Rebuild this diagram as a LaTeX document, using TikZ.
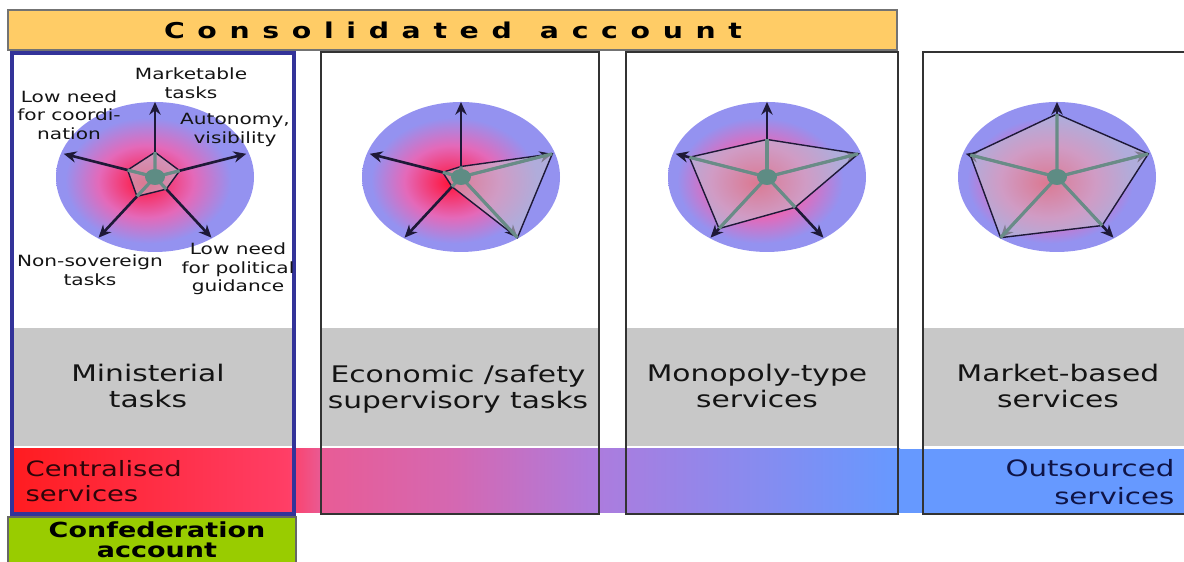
\documentclass[tikz,border=0pt]{standalone}
\usepackage{fontspec}
\setmainfont{DejaVu Sans}[FakeStretch=1.3]
\usetikzlibrary{calc,arrows.meta,positioning}

\definecolor{titleorange}{RGB}{255,204,102}
\definecolor{ministryblue}{RGB}{51,51,153}
\definecolor{bandgray}{RGB}{200,200,200}
\definecolor{centralred}{RGB}{255,28,32}
\definecolor{rosered}{RGB}{255,62,102}
\definecolor{pinkmauve}{RGB}{232,92,150}
\definecolor{midmauve}{RGB}{212,104,178}
\definecolor{lilac}{RGB}{172,124,222}
\definecolor{outblue}{RGB}{102,153,255}
\definecolor{confgreen}{RGB}{153,204,0}
\definecolor{axisdark}{RGB}{30,25,55}
\definecolor{spoketeal}{RGB}{105,140,135}
\definecolor{hubteal}{RGB}{94,140,132}
\definecolor{glowin}{RGB}{255,20,60}
\definecolor{glowmid}{RGB}{228,105,185}
\definecolor{glowout}{RGB}{148,146,240}

\pgfdeclareradialshading{radarglow}{\pgfpoint{-3bp}{-2bp}}{color(0bp)=(glowin); color(12bp)=(glowmid); color(21bp)=(glowout); color(50bp)=(glowout)}
\pgfdeclarehorizontalshading{serviceband}{100bp}{color(0bp)=(centralred); color(25bp)=(centralred); color(40.5bp)=(rosered); color(42.5bp)=(pinkmauve); color(50bp)=(midmauve); color(58bp)=(lilac); color(75bp)=(outblue); color(100bp)=(outblue)}

\newcommand{\tightlines}{\lineskiplimit=-10pt\relax}

\begin{document}
\begin{tikzpicture}[x=0.01cm, y=-0.01cm,
    every node/.style={inner sep=0pt, align=center},
    colbox/.style={draw=black!80, line width=0.35pt},
    axis/.style={draw=axisdark, line width=0.75pt, -{Stealth[length=3.6pt,width=3.2pt]}},
    spoke/.style={draw=spoketeal, line width=0.9pt},
    web/.style={draw=axisdark, line width=0.4pt, fill={rgb,255:red,195;green,190;blue,205}, fill opacity=0.6},
    radarlbl/.style={font=\fontsize{4.4}{5.3}\selectfont\tightlines, text=black!92},
    tasklbl/.style={font=\fontsize{6.5}{7.4}\selectfont\tightlines, text=black!92},
    bandlbl/.style={font=\fontsize{6.0}{7.1}\selectfont\tightlines}]

    \useasboundingbox (0,0) rectangle (1184,562);

    % consolidated account bar
    \draw[draw=black!55, fill=titleorange] (8,10) rectangle (897,50);
    \node[font=\bfseries\fontsize{6.2}{7}\selectfont\addfontfeature{LetterSpace=58}] (title) at (453,30) {Consolidated\hspace{8pt}account};

    % gradient band
    \shade[shading=serviceband] (12,449) rectangle (900,513);
    \fill[outblue] (899,449) rectangle (1184,513);

    % gray bands
    \fill[bandgray] (14,328) rectangle (292,446);
    \fill[bandgray] (321,328) rectangle (599,446);
    \fill[bandgray] (626,328) rectangle (898,446);
    \fill[bandgray] (923,328) rectangle (1184,446);

    % columns
    \draw[colbox] (321,52) rectangle (599,514);
    \draw[colbox] (626,52) rectangle (898,514);
    \draw[colbox] (1184,52) -- (923,52) -- (923,514) -- (1184,514);
    \draw[draw=ministryblue, line width=1.2pt] (12,53) rectangle (294,514);

    % radar charts
    \foreach \i/\cx/\fa/\fb/\fc/\fd/\fe in {1/155/.33/.27/.2/.32/.3, 2/461/.14/1/1/.16/.2, 3/767/.5/1/.5/.85/.85, 4/1057/.84/1/.8/1/.95}{
        \coordinate (c\i) at (\cx,177);
        \shade[shading=radarglow] (c\i) ellipse [x radius=99, y radius=75];
        \foreach \k/\ang/\f in {1/90/\fa, 2/18/\fb, 3/-54/\fc, 4/-126/\fd, 5/162/\fe}{
            \coordinate (t\i-\k) at ($(c\i)+({96*cos(\ang)},{-75*sin(\ang)})$);
            \coordinate (v\i-\k) at ($(c\i)!\f!(t\i-\k)$);
            \draw[axis] (c\i) -- (t\i-\k);
        }
        \draw[web] (v\i-1) -- (v\i-2) -- (v\i-3) -- (v\i-4) -- (v\i-5) -- cycle;
        \foreach \k in {1,...,5}
            \draw[spoke] (c\i) -- (v\i-\k);
        \fill[hubteal] (c\i) ellipse [x radius=10, y radius=8];
    }

    % axis labels
    \node[radarlbl] (mkt) at (191,83) {Marketable\\tasks};
    \node[radarlbl] (coord) at (69,115) {Low need\\for coordi-\\nation};
    \node[radarlbl] (auto) at (235,130) {Autonomy,\\visibility};
    \node[radarlbl] (nonsov) at (90,270) {Non-sovereign\\tasks};
    \node[radarlbl] (pol) at (238,269) {Low need\\for political\\guidance};

    % task types
    \node[tasklbl] (minist) at (148,386) {Ministerial\\tasks};
    \node[tasklbl] (econ) at (458,389) {Economic /safety\\supervisory tasks};
    \node[tasklbl] (monop) at (757,386) {Monopoly-type\\services};
    \node[tasklbl] (market) at (1058,386) {Market-based\\services};

    \node[bandlbl, text={rgb,255:red,45;green,5;blue,10}, align=left, anchor=west] (central) at (25,481) {Centralised\\services};
    \node[bandlbl, font=\fontsize{6.4}{7.9}\selectfont\tightlines, text={rgb,255:red,15;green,20;blue,70}, align=right, anchor=east] (outs) at (1175,482) {Outsourced\\services};

    % confederation account
    \draw[draw=black!60, fill=confgreen] (8,517) rectangle (296,563);
    \node[font=\bfseries\fontsize{5.9}{5.7}\selectfont\tightlines] (conf) at (157,540) {Confederation\\account};
\end{tikzpicture}
\end{document}
